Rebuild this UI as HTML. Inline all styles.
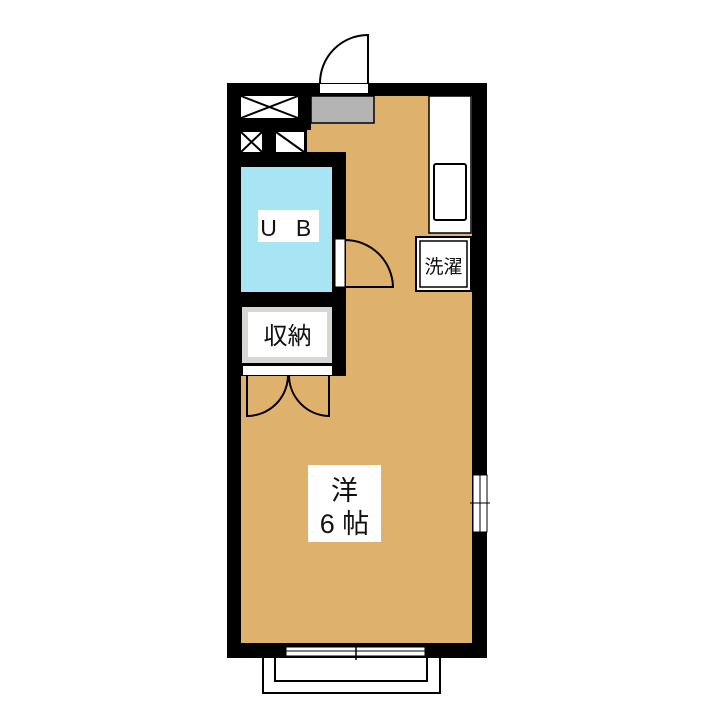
<!DOCTYPE html>
<html><head><meta charset="utf-8"><style>
html,body{margin:0;padding:0;background:#fff;}
svg{display:block;}
text{font-family:"Liberation Sans","Noto Sans CJK JP",sans-serif;fill:#111;}
</style></head><body>
<svg width="720" height="720" viewBox="0 0 720 720" xmlns="http://www.w3.org/2000/svg">
<rect width="720" height="720" fill="#fff"/>
<rect x="227" y="83" width="260" height="575" fill="#000"/>
<rect x="241" y="96" width="231" height="547" fill="#deb26d"/>
<rect x="240" y="96" width="71" height="34" fill="#000"/>
<rect x="240" y="128" width="67" height="26" fill="#000"/>
<rect x="241" y="96" width="57" height="22" fill="#fff"/>
<line x1="241" y1="96" x2="298" y2="118" stroke="#000" stroke-width="2"/>
<line x1="241" y1="118" x2="298" y2="96" stroke="#000" stroke-width="2"/>
<rect x="241" y="132" width="21" height="20" fill="#fff"/>
<line x1="241" y1="132" x2="262" y2="152" stroke="#000" stroke-width="2"/>
<line x1="241" y1="152" x2="262" y2="132" stroke="#000" stroke-width="2"/>
<rect x="276" y="132" width="28" height="20" fill="#fff"/>
<line x1="276" y1="132" x2="304" y2="152" stroke="#000" stroke-width="2"/>
<rect x="311" y="96" width="63" height="27" fill="#b4b4b4" stroke="#000" stroke-width="1.5"/>
<rect x="320" y="84" width="48" height="9" fill="#fff"/>
<path d="M320 83 A48 48 0 0 1 368 35 L368 83" fill="none" stroke="#000" stroke-width="2"/>
<rect x="240" y="152" width="106" height="224" fill="#000"/>
<rect x="241" y="167" width="91" height="125" fill="#a7e5f5"/>
<rect x="258" y="210" width="61" height="32" fill="#fff"/>
<text x="268.5" y="236" font-size="23" text-anchor="middle">U</text>
<text x="303.5" y="236" font-size="23" text-anchor="middle">B</text>
<rect x="335" y="239" width="10" height="48" fill="#fff" stroke="#000" stroke-width="1"/>
<path d="M345 240 A48 48 0 0 1 393 287 L345 287" fill="none" stroke="#000" stroke-width="2"/>
<rect x="242" y="307" width="90" height="56" fill="#d7d7d2"/>
<rect x="248" y="312" width="79" height="45" fill="#fff"/>
<text x="287.5" y="344" font-size="24" text-anchor="middle">収納</text>
<rect x="243" y="366" width="89" height="9" fill="#fff"/>
<path d="M247 375 L247 416 A41 41 0 0 0 288 375" fill="none" stroke="#000" stroke-width="2"/>
<path d="M329 375 L329 416 A41 41 0 0 1 289 375" fill="none" stroke="#000" stroke-width="2"/>
<rect x="429" y="96" width="42" height="137" fill="#fff" stroke="#000" stroke-width="1.5"/>
<rect x="434" y="164" width="32" height="56" rx="2" fill="#fff" stroke="#000" stroke-width="2"/>
<rect x="416" y="237" width="55" height="54" fill="#fff" stroke="#000" stroke-width="2"/>
<rect x="420" y="241" width="47" height="46" fill="#fff" stroke="#000" stroke-width="1.5"/>
<text x="443.5" y="273" font-size="19" text-anchor="middle">洗濯</text>
<rect x="308" y="465" width="73" height="77" fill="#fff"/>
<text x="344.5" y="500" font-size="27" text-anchor="middle">洋</text>
<text x="344.5" y="533" font-size="27" text-anchor="middle">6 帖</text>
<rect x="473" y="475" width="14" height="57" fill="#fff" stroke="#000" stroke-width="1"/>
<line x1="480" y1="475" x2="480" y2="532" stroke="#000" stroke-width="1"/>
<line x1="470" y1="503" x2="490" y2="503" stroke="#000" stroke-width="1"/>
<rect x="286" y="647" width="139" height="9" fill="#fff" stroke="#000" stroke-width="1"/>
<line x1="286" y1="651" x2="425" y2="651" stroke="#000" stroke-width="1"/>
<line x1="356" y1="643" x2="356" y2="660" stroke="#000" stroke-width="1.5"/>
<path d="M263 658 L263 693 L440 693 L440 658" fill="none" stroke="#000" stroke-width="2"/>
<path d="M275 658 L275 681 L427 681 L427 658" fill="none" stroke="#000" stroke-width="2"/>
</svg>
</body></html>
